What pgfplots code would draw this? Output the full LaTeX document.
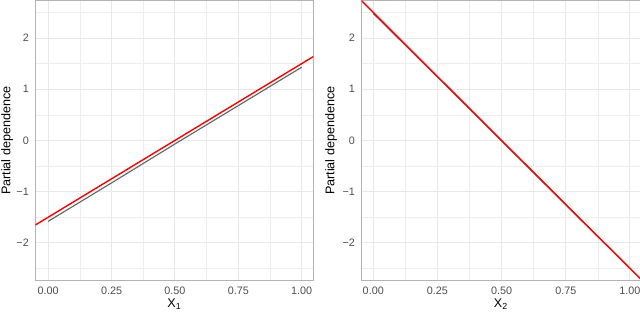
\documentclass[border=0pt]{standalone}
\usepackage{pgfplots}
\pgfplotsset{compat=1.18}
\usepackage{fontspec}
\setmainfont{Liberation Sans}
\definecolor{gridc}{HTML}{E8E8E8}
\definecolor{bord}{HTML}{B3B3B3}
\definecolor{tickc}{HTML}{4D4D4D}
\definecolor{pdgrey}{HTML}{666666}
\pgfplotsset{pd/.style={
  scale only axis, height=280pt,
  ymin=-2.74, ymax=2.73,
  ytick={-2,-1,0,1,2}, yticklabels={−2,−1,0,1,2},
  minor ytick={-2.5,-1.5,-0.5,0.5,1.5,2.5},
  xtick={0,0.25,0.5,0.75,1}, xticklabels={0.00,0.25,0.50,0.75,1.00},
  minor xtick={0.125,0.375,0.625,0.875},
  grid=both,
  major grid style={gridc, line width=1pt},
  minor grid style={gridc!80!white, line width=0.55pt},
  axis line style={bord, line width=1pt},
  major tick length=0pt, minor tick length=0pt,
  tick style={draw=none},
  ticklabel style={font=\fontsize{10.8}{12}\selectfont, text=tickc},
  xticklabel style={anchor=center, yshift=-10.5pt},
  yticklabel style={anchor=east, xshift=-6.5pt, inner sep=0pt},
  label style={font=\fontsize{12.6}{14}\selectfont},
  ylabel={Partial dependence},
  anchor=south west,
}}
\begin{document}
\begin{tikzpicture}
\useasboundingbox (0,0) rectangle (640pt,312pt);
\begin{axis}[pd, at={(35.5pt,31.3pt)}, width=277.8pt,
  xmin=-0.05, xmax=1.046,
  xlabel={X\textsubscript{1}},
  xlabel style={at={(axis description cs:0.5,-0.085)}, anchor=center},
  ylabel style={at={(axis description cs:-0.102,0.5)}, anchor=center}]
\addplot[pdgrey, line width=1.15pt] coordinates {(0,-1.58) (0.25,-0.83) (0.5,-0.07) (0.75,0.68) (1,1.43)};
\addplot[red, line width=1.4pt] coordinates {(-0.05,-1.65) (1.05,1.65)};
\end{axis}
\begin{axis}[pd, at={(361.7pt,31.3pt)}, width=278.3pt,
  xmin=-0.045, xmax=1.039,
  xlabel={X\textsubscript{2}},
  xlabel style={at={(axis description cs:0.5,-0.085)}, anchor=center},
  ylabel style={at={(axis description cs:-0.11,0.5)}, anchor=center}]
\addplot[pdgrey, line width=1.15pt] coordinates {(0,2.48) (0.25,1.24) (0.5,-0.01) (0.75,-1.26) (1,-2.50)};
\addplot[red, line width=1.4pt] coordinates {(-0.1,3.0) (1.1,-3.0)};
\end{axis}
\end{tikzpicture}
\end{document}
